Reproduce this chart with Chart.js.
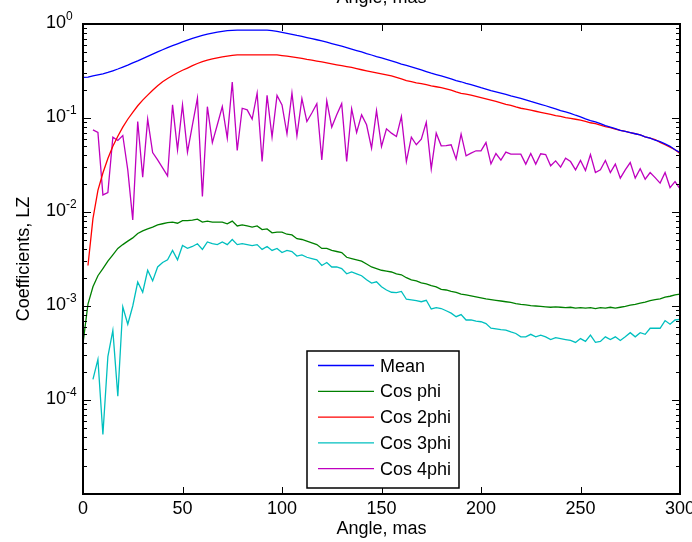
<!DOCTYPE html>
<html><head><meta charset="utf-8">
<script src="https://cdn.jsdelivr.net/npm/chart.js@4.4.1/dist/chart.umd.min.js"></script>
<style>html,body{margin:0;padding:0;background:#fff}canvas{display:block}</style>
</head><body>
<canvas id="c" width="692" height="542"></canvas>
<script>
// ---------- data ----------
const angles = [
  0,2.5,5,7.5,10,12.5,15,17.5,20,22.5,
  25,27.5,30,32.5,35,37.5,40,42.5,45,47.5,
  50,52.5,55,57.5,60,62.5,65,67.5,70,72.5,
  75,77.5,80,82.5,85,87.5,90,92.5,95,97.5,
  100,102.5,105,107.5,110,112.5,115,117.5,120,122.5,
  125,127.5,130,132.5,135,137.5,140,142.5,145,147.5,
  150,152.5,155,157.5,160,162.5,165,167.5,170,172.5,
  175,177.5,180,182.5,185,187.5,190,192.5,195,197.5,
  200,202.5,205,207.5,210,212.5,215,217.5,220,222.5,
  225,227.5,230,232.5,235,237.5,240,242.5,245,247.5,
  250,252.5,255,257.5,260,262.5,265,267.5,270,272.5,
  275,277.5,280,282.5,285,287.5,290,292.5,295,297.5,
  300];

const meanVals = [
  0.270,0.272,0.280,0.287,0.295,0.305,0.318,0.332,0.348,0.365,
  0.385,0.405,0.428,0.452,0.478,0.505,0.532,0.560,0.588,0.615,
  0.645,0.675,0.705,0.730,0.755,0.780,0.800,0.820,0.835,0.850,
  0.855,0.860,0.860,0.860,0.860,0.860,0.860,0.860,0.850,0.835,
  0.815,0.795,0.775,0.755,0.738,0.718,0.700,0.680,0.660,0.640,
  0.620,0.600,0.580,0.560,0.540,0.522,0.505,0.485,0.468,0.450,
  0.435,0.420,0.405,0.390,0.375,0.362,0.350,0.338,0.325,0.312,
  0.300,0.290,0.280,0.270,0.260,0.250,0.243,0.234,0.226,0.218,
  0.210,0.203,0.196,0.190,0.184,0.178,0.172,0.167,0.162,0.156,
  0.150,0.145,0.140,0.135,0.130,0.125,0.120,0.116,0.112,0.107,
  0.103,0.098,0.094,0.091,0.087,0.083,0.080,0.077,0.074,0.072,
  0.070,0.068,0.066,0.063,0.061,0.058,0.056,0.053,0.050,0.046,
  0.043];

const cos1Vals = [
  0.00040,0.00105,0.0016,0.0021,0.0025,0.0030,0.0035,0.0041,0.0045,0.0049,
  0.0053,0.0059,0.0063,0.0066,0.0069,0.0073,0.0075,0.0077,0.0078,0.0076,
  0.0081,0.0081,0.0082,0.0084,0.0078,0.0080,0.0078,0.0078,0.0078,0.0075,
  0.0080,0.0071,0.0073,0.0071,0.0069,0.0071,0.0065,0.0066,0.0060,0.0061,
  0.0061,0.0058,0.0057,0.0052,0.0051,0.0049,0.0047,0.0045,0.0041,0.0041,
  0.0039,0.0038,0.0037,0.0033,0.0032,0.0031,0.0030,0.0028,0.0026,0.0025,
  0.0024,0.00235,0.0023,0.0022,0.00215,0.0020,0.0019,0.00185,0.00176,0.00172,
  0.00165,0.0016,0.0015,0.00148,0.00143,0.0014,0.00134,0.00131,0.00128,0.00125,
  0.00122,0.00119,0.00117,0.00115,0.00113,0.00111,0.00109,0.00106,0.00104,0.00103,
  0.00101,0.00100,0.00099,0.00098,0.00097,0.00098,0.00097,0.00096,0.00097,0.00095,
  0.00096,0.00095,0.00096,0.00094,0.00096,0.00095,0.00097,0.00095,0.00097,0.00099,
  0.00102,0.00104,0.00107,0.00110,0.00114,0.00117,0.00119,0.00124,0.00127,0.00131,
  0.00134];

const cos2Vals = [
  null,0.0027,0.0085,0.017,0.026,0.037,0.050,0.064,0.080,0.097,
  0.115,0.135,0.155,0.175,0.197,0.220,0.243,0.263,0.283,0.303,
  0.322,0.340,0.360,0.380,0.398,0.412,0.425,0.437,0.448,0.456,
  0.463,0.470,0.470,0.470,0.470,0.470,0.470,0.470,0.470,0.470,
  0.462,0.455,0.447,0.438,0.430,0.420,0.412,0.403,0.395,0.386,
  0.377,0.368,0.360,0.352,0.345,0.335,0.326,0.318,0.310,0.302,
  0.295,0.288,0.280,0.270,0.260,0.250,0.244,0.237,0.232,0.226,
  0.220,0.215,0.210,0.204,0.198,0.190,0.183,0.179,0.175,0.170,
  0.165,0.160,0.155,0.150,0.145,0.140,0.136,0.131,0.127,0.124,
  0.121,0.118,0.115,0.112,0.109,0.106,0.104,0.101,0.099,0.097,
  0.095,0.092,0.089,0.087,0.084,0.081,0.079,0.076,0.074,0.072,
  0.070,0.068,0.066,0.063,0.061,0.059,0.055,0.052,0.049,0.046,
  0.042];

const cos3Vals = [
  null,null,0.000166,0.00027,0.000043,0.00029,0.00055,0.00011,0.00098,0.00064,
  0.0010,0.0018,0.0014,0.0024,0.00185,0.0026,0.0029,0.0031,0.0039,0.0031,
  0.0044,0.0041,0.0043,0.0046,0.0040,0.0048,0.0046,0.0045,0.0048,0.0045,
  0.0051,0.0045,0.0046,0.0045,0.0044,0.0045,0.0040,0.0043,0.0039,0.0041,
  0.0037,0.0039,0.0038,0.0034,0.0035,0.0033,0.0032,0.0031,0.0027,0.0029,
  0.0026,0.0026,0.0025,0.0022,0.0023,0.0022,0.0021,0.0019,0.00175,0.00181,
  0.0016,0.00148,0.0014,0.00139,0.00143,0.00118,0.00116,0.00114,0.00111,0.00115,
  0.00093,0.00096,0.00094,0.00089,0.00084,0.00077,0.00081,0.00071,0.00071,0.00069,
  0.00068,0.00065,0.00058,0.00057,0.00056,0.000555,0.00053,0.00051,0.00047,0.00047,
  0.00050,0.00047,0.00049,0.00047,0.00044,0.00046,0.00045,0.00044,0.00043,0.00041,
  0.00045,0.00042,0.00049,0.00041,0.00042,0.00047,0.00044,0.00047,0.00043,0.00047,
  0.00052,0.00047,0.00052,0.00050,0.00058,0.00058,0.00058,0.00070,0.00064,0.00071,
  0.00072];

const cos4Vals = [
  null,null,0.0748,0.0701,0.0152,0.0161,0.0626,0.0576,0.0651,0.0281,
  0.00824,0.0918,0.0235,0.0973,0.0429,0.0359,0.0295,0.0242,0.138,0.0459,
  0.138,0.0433,0.0847,0.163,0.0146,0.132,0.0548,0.0847,0.132,0.061,
  0.241,0.0451,0.127,0.122,0.0973,0.184,0.0344,0.174,0.0626,0.174,
  0.138,0.0679,0.184,0.0646,0.161,0.0918,0.113,0.142,0.0359,0.152,
  0.080,0.108,0.142,0.0344,0.125,0.0701,0.108,0.0847,0.0478,0.120,
  0.0497,0.0767,0.069,0.0635,0.1038,0.0344,0.0626,0.0519,0.0596,0.090,
  0.0288,0.069,0.0506,0.0509,0.0519,0.0365,0.0674,0.0396,0.0423,0.0448,
  0.0448,0.0548,0.0325,0.0419,0.0356,0.0433,0.0413,0.0413,0.0413,0.0323,
  0.0419,0.0323,0.0416,0.0409,0.031,0.035,0.030,0.0374,0.0344,0.0281,
  0.0353,0.0276,0.0409,0.0263,0.0281,0.0353,0.0263,0.0323,0.0229,0.0281,
  0.0336,0.0229,0.0288,0.0223,0.0263,0.0232,0.0203,0.0263,0.0182,0.0211,
  0.0176];

const seriesNames = ['Mean','Cos phi','Cos 2phi','Cos 3phi','Cos 4phi'];
const seriesColors = ['#0000ff','#008000','#ff0000','#00bfbf','#bf00bf'];
const xTicks = [0,50,100,150,200,250,300];
const yTickExps = [0,-1,-2,-3,-4];
const xTitle = 'Angle, mas';
const yTitle = 'Coefficients, LZ';

// ---------- chart ----------
const FONT = '"Liberation Sans", Arial, Helvetica, sans-serif';
const seriesVals = [meanVals, cos1Vals, cos2Vals, cos3Vals, cos4Vals];

const datasets = seriesVals.map((vals, k) => ({
  label: seriesNames[k],
  data: angles.map((a, i) => ({x: a, y: vals[i]})),
  borderColor: seriesColors[k],
  backgroundColor: seriesColors[k],
  borderWidth: 1.3,
  pointRadius: 0,
  tension: 0,
  fill: false,
  spanGaps: false
}));

const decor = {
  id: 'decor',
  afterDatasetsDraw(chart) {
    const {ctx, chartArea: a, scales: {x, y}} = chart;
    ctx.save();
    const seg = (x1, y1, x2, y2) => { ctx.beginPath(); ctx.moveTo(x1, y1); ctx.lineTo(x2, y2); ctx.stroke(); };
    ctx.strokeStyle = '#000';
    ctx.lineWidth = 1;
    // x ticks (inward, bottom and top)
    xTicks.forEach(v => {
      const px = Math.round(x.getPixelForValue(v)) + 0.5;
      seg(px, a.bottom, px, a.bottom - 7);
      seg(px, a.top, px, a.top + 7);
    });
    // y ticks (major and minor, left and right)
    const lo = Math.floor(Math.log10(y.min)), hi = Math.round(Math.log10(y.max));
    for (let e = lo; e < hi; e++) {
      for (let m = 1; m < 10; m++) {
        const v = m * Math.pow(10, e);
        if (v < y.min || v > y.max) continue;
        const py = Math.round(y.getPixelForValue(v)) + 0.5;
        const len = m === 1 ? 8 : 4;
        seg(a.left, py, a.left + len, py);
        seg(a.right, py, a.right - len, py);
      }
    }
    // frame
    ctx.lineWidth = 2;
    ctx.strokeRect(a.left, a.top, a.right - a.left, a.bottom - a.top);

    // tick labels
    ctx.fillStyle = '#000';
    ctx.font = '18px ' + FONT;
    ctx.textAlign = 'center';
    ctx.textBaseline = 'alphabetic';
    xTicks.forEach(v => ctx.fillText(String(v), x.getPixelForValue(v), a.bottom + 20));
    yTickExps.forEach(e => {
      const py = y.getPixelForValue(Math.pow(10, e));
      const xr = a.left - 17;
      ctx.font = '18px ' + FONT;
      ctx.textAlign = 'right';
      ctx.fillText('10', xr, py + 4);
      ctx.font = '12px ' + FONT;
      ctx.textAlign = 'left';
      ctx.fillText(e === 0 ? '0' : '-' + String(-e), xr, py - 4.5);
    });

    // axis titles
    ctx.font = '18px ' + FONT;
    ctx.textAlign = 'center';
    const cx = (a.left + a.right) / 2;
    ctx.fillText(xTitle, cx, a.bottom + 40);
    ctx.fillText(xTitle, cx, 3);
    ctx.save();
    ctx.translate(29, (a.top + a.bottom) / 2);
    ctx.rotate(-Math.PI / 2);
    ctx.fillText(yTitle, 0, 0);
    ctx.restore();

    // legend box
    const L = {x: 307, y: 351, w: 152, h: 137};
    ctx.fillStyle = '#fff';
    ctx.fillRect(L.x, L.y, L.w, L.h);
    ctx.lineWidth = 1.5;
    ctx.strokeStyle = '#000';
    ctx.strokeRect(L.x, L.y, L.w, L.h);
    ctx.font = '18px ' + FONT;
    ctx.textAlign = 'left';
    chart.data.datasets.forEach((ds, i) => {
      const ry = L.y + 14.5 + i * 25.8;
      ctx.strokeStyle = ds.borderColor;
      ctx.lineWidth = 1.3;
      seg(L.x + 11, ry, L.x + 67, ry);
      ctx.fillStyle = '#000';
      ctx.fillText(ds.label, L.x + 73, ry + 6);
    });
    ctx.restore();
  }
};

new Chart(document.getElementById('c'), {
  type: 'line',
  data: {datasets},
  options: {
    responsive: false,
    animation: false,
    devicePixelRatio: 1,
    layout: {padding: {left: 83, right: 12, top: 24, bottom: 48}},
    plugins: {legend: {display: false}, tooltip: {enabled: false}},
    scales: {
      x: {type: 'linear', min: 0, max: 300, display: false},
      y: {type: 'logarithmic', min: 1e-5, max: 1, display: false}
    }
  },
  plugins: [decor]
});
</script>
</body></html>
